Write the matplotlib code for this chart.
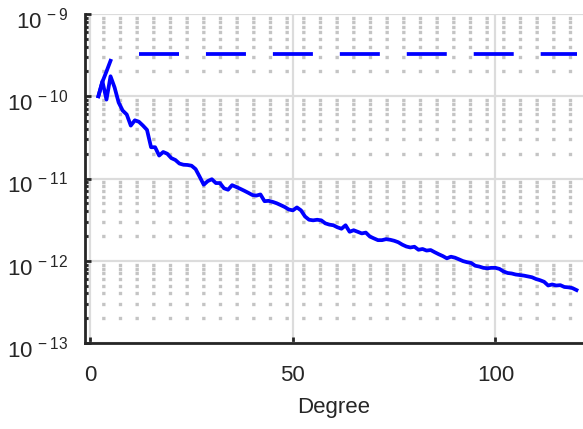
import numpy as np
import matplotlib
matplotlib.use("Agg")
import matplotlib.pyplot as plt
from matplotlib.ticker import LogLocator, NullFormatter
from matplotlib.transforms import ScaledTranslation

# spectrum values (units of 1e-12), degree 2..120
degrees = np.arange(2, 121)
power = np.array([
    100, 152, 91, 175, 128, 84, 67, 60, 44, 51,
    49, 44, 39, 24, 24, 19, 21, 20, 17.7, 16.8,
    15.2, 14.7, 14.6, 14.3, 13.0, 10.5, 8.4, 9.3, 9.8, 8.8,
    8.8, 7.6, 7.3, 8.3, 7.9, 7.5, 7.1, 6.7, 6.3, 6.2,
    6.4, 5.3, 5.35, 5.2, 5.0, 4.75, 4.5, 4.2, 4.1, 4.45,
    4.1, 3.45, 3.15, 3.1, 3.15, 3.1, 2.85, 2.75, 2.7, 2.55,
    2.45, 2.7, 2.25, 2.35, 2.25, 2.15, 2.2, 1.97, 1.87, 1.78,
    1.78, 1.83, 1.8, 1.75, 1.68, 1.57, 1.49, 1.45, 1.48, 1.36,
    1.39, 1.33, 1.35, 1.27, 1.2, 1.14, 1.07, 1.12, 1.09, 1.04,
    0.99, 0.96, 0.94, 0.87, 0.85, 0.82, 0.81, 0.82, 0.82, 0.795,
    0.74, 0.71, 0.70, 0.68, 0.67, 0.66, 0.645, 0.63, 0.60, 0.58,
    0.555, 0.50, 0.515, 0.50, 0.505, 0.48, 0.475, 0.465, 0.44,
]) * 1e-12

# short second curve
deg_short = [2, 3, 4, 5]
power_short = np.array([100, 150, 200, 270]) * 1e-12

# dashed reference level
deg_ref = [12, 120]
power_ref = np.array([330, 330]) * 1e-12

xticks = [0, 50, 100]
yticks = [1e-13, 1e-12, 1e-11, 1e-10, 1e-9]
ytick_labels = [r"$\mathregular{10^{\,-%d}}$" % e for e in (13, 12, 11, 10, 9)]

plt.rcParams["font.family"] = ["Liberation Sans", "DejaVu Sans"]
plt.rcParams["mathtext.fontset"] = "custom"
plt.rcParams["mathtext.rm"] = "Liberation Sans"
plt.rcParams["lines.scale_dashes"] = False

fig = plt.figure(figsize=(5.83, 4.29), dpi=100)
ax = fig.add_axes([85 / 583, 86 / 429, 498 / 583, 329 / 429])

blue = "#0000ff"
ax.plot(degrees, power, color=blue, lw=2.7, zorder=3)
ax.plot(deg_short, power_short, color=blue, lw=2.7, zorder=3)
ax.plot(deg_ref, power_ref, color=blue, lw=2.7, zorder=3,
        linestyle=(0, (28.8, 19.4)), dash_capstyle="butt")

ax.set_yscale("log")
ax.set_ylim(1e-13, 1e-9)
ax.set_xlim(-1.3, 121.6)

ax.set_xticks(xticks)
ax.set_yticks(yticks)
ax.set_yticklabels(ytick_labels)
ax.yaxis.set_minor_locator(LogLocator(base=10, subs=np.arange(2, 10)))
ax.yaxis.set_minor_formatter(NullFormatter())

ax.grid(True, which="major", color="#dcdcdc", lw=1.6, linestyle="-")
ax.grid(True, which="minor", axis="y", color="#c4c4c4", lw=2.4,
        linestyle=(0, (2.4, 9.6)), dash_capstyle="butt")
ax.set_axisbelow(True)

for side in ("top", "right"):
    ax.spines[side].set_visible(False)
for side in ("left", "bottom"):
    ax.spines[side].set_linewidth(2.0)
    ax.spines[side].set_color("#262626")

ax.tick_params(which="both", direction="in", color="#262626", width=2.0,
               labelsize=16, labelcolor="#262626")
ax.tick_params(which="major", length=4.5)
ax.tick_params(which="minor", length=2.5)
ax.tick_params(axis="x", pad=16)
ax.tick_params(axis="y", pad=12)

shift = ScaledTranslation(0, -4 / 100, fig.dpi_scale_trans)
for lab in ax.get_yticklabels():
    lab.set_transform(lab.get_transform() + shift)

ax.set_xlabel("Degree", fontsize=16, color="#262626", labelpad=8)

fig.savefig("out.png", dpi=100)
